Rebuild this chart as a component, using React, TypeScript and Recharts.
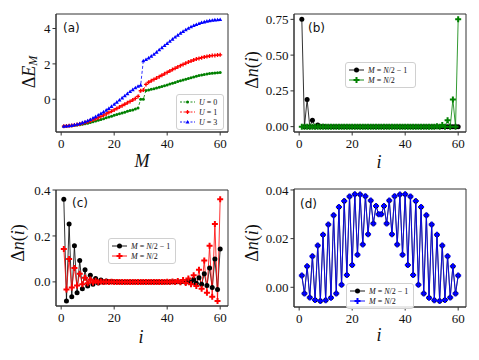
import { LineChart, Line, XAxis, YAxis, ReferenceArea, Legend } from "recharts";

// site / particle index 1..60
const sites = Array.from({ length: 60 }, (_, k) => k + 1);
const xTicks = [0, 20, 40, 60];

// (a) ΔE_M vs M
const dE_U0 = [
  -1.52, -1.51, -1.5, -1.49, -1.48, -1.46, -1.44, -1.41, -1.38, -1.35,
  -1.31, -1.27, -1.23, -1.19, -1.14, -1.1, -1.05, -1.0, -0.96, -0.91,
  -0.86, -0.82, -0.77, -0.73, -0.68, -0.64, -0.6, -0.55, -0.5, 0.0,
  0.0, 0.5, 0.53, 0.56, 0.6, 0.64, 0.68, 0.72, 0.77, 0.81,
  0.86, 0.9, 0.95, 1.0, 1.04, 1.09, 1.13, 1.18, 1.22, 1.26,
  1.3, 1.34, 1.37, 1.4, 1.43, 1.45, 1.47, 1.49, 1.5, 1.51,
];
const dE_U1 = [
  -1.52, -1.51, -1.5, -1.48, -1.46, -1.43, -1.4, -1.36, -1.32, -1.27,
  -1.22, -1.16, -1.1, -1.04, -0.97, -0.9, -0.83, -0.75, -0.68, -0.6,
  -0.52, -0.44, -0.36, -0.28, -0.2, -0.12, -0.04, 0.05, 0.16, 0.48,
  0.52, 0.84, 0.96, 1.04, 1.12, 1.2, 1.28, 1.36, 1.44, 1.52,
  1.6, 1.68, 1.75, 1.83, 1.9, 1.97, 2.04, 2.1, 2.16, 2.22,
  2.27, 2.31, 2.35, 2.39, 2.42, 2.45, 2.47, 2.48, 2.5, 2.51,
];
const dE_U3 = [
  -1.52, -1.51, -1.49, -1.47, -1.44, -1.41, -1.37, -1.32, -1.27, -1.21,
  -1.14, -1.06, -0.98, -0.89, -0.8, -0.71, -0.61, -0.51, -0.4, -0.28,
  -0.16, -0.04, 0.08, 0.2, 0.32, 0.44, 0.55, 0.65, 0.74, 0.8,
  2.18, 2.25, 2.34, 2.44, 2.55, 2.67, 2.8, 2.92, 3.04, 3.16,
  3.28, 3.4, 3.52, 3.63, 3.74, 3.84, 3.93, 4.02, 4.1, 4.17,
  4.23, 4.29, 4.34, 4.38, 4.42, 4.45, 4.47, 4.49, 4.5, 4.51,
];

// (b) Δn(i)
const dnB_Nm1 = [
  0.75, 0, 0.19, 0, 0.045, 0, 0.012, 0, 0.003, 0,
  0, 0, 0, 0, 0, 0, 0, 0, 0, 0,
  0, 0, 0, 0, 0, 0, 0, 0, 0, 0,
  0, 0, 0, 0, 0, 0, 0, 0, 0, 0,
  0, 0, 0, 0, 0, 0, 0, 0, 0, 0,
  0, 0, 0, 0, 0, 0, 0, 0, 0, 0,
];
const dnB_N = [
  0, 0, 0, 0, 0, 0, 0, 0, 0, 0,
  0, 0, 0, 0, 0, 0, 0, 0, 0, 0,
  0, 0, 0, 0, 0, 0, 0, 0, 0, 0,
  0, 0, 0, 0, 0, 0, 0, 0, 0, 0,
  0, 0, 0, 0, 0, 0, 0, 0, 0, 0,
  0, 0.003, 0, 0.012, 0, 0.045, 0, 0.19, 0, 0.75,
];

// (c) Δn(i)
const dnC_Nm1 = [
  0.36, -0.083, 0.252, -0.065, 0.157, -0.047, 0.093, -0.03, 0.053, -0.018,
  0.029, -0.01, 0.015, -0.005, 0.008, -0.002, 0.004, -0.001, 0.002, 0,
  0.001, 0, 0, 0, 0, 0, 0, 0, 0, 0,
  0, 0, 0, 0, 0, 0, 0, 0, 0, 0,
  0, 0.001, 0, 0.001, -0.001, 0.002, -0.002, 0.005, -0.003, 0.01,
  -0.006, 0.018, -0.01, 0.035, -0.016, 0.06, -0.024, 0.1, -0.033, 0.143,
];
const dnC_N = [
  0.143, -0.033, 0.1, -0.024, 0.06, -0.016, 0.035, -0.01, 0.018, -0.006,
  0.01, -0.003, 0.005, -0.002, 0.002, -0.001, 0.001, 0, 0.001, 0,
  0, 0, 0, 0, 0, 0, 0, 0, 0, 0,
  0, 0, 0, 0, 0, 0, 0, 0, 0, 0.001,
  0, 0.002, -0.001, 0.004, -0.002, 0.008, -0.005, 0.015, -0.01, 0.029,
  -0.018, 0.053, -0.03, 0.093, -0.047, 0.157, -0.065, 0.252, -0.083, 0.36,
];

// (d) Δn(i) — both curves coincide, black sits under blue
const dnD_N = [
  0.0048, -0.0025, 0.0086, -0.0042, 0.0128, -0.0052, 0.0172, -0.0056, 0.0216, -0.0053,
  0.0258, -0.0043, 0.0296, -0.0025, 0.033, 0.001, 0.0355, 0.0051, 0.0373, 0.0092,
  0.0382, 0.0134, 0.0381, 0.0176, 0.0374, 0.0218, 0.0357, 0.0262, 0.0334, 0.03,
  0.03, 0.0334, 0.0262, 0.0357, 0.0218, 0.0374, 0.0176, 0.0381, 0.0134, 0.0382,
  0.0092, 0.0373, 0.0051, 0.0355, 0.001, 0.033, -0.0025, 0.0296, -0.0043, 0.0258,
  -0.0053, 0.0216, -0.0056, 0.0172, -0.0052, 0.0128, -0.0042, 0.0086, -0.0025, 0.0048,
];
const dnD_Nm1 = dnD_N;

const X_DOMAIN = [-1.95, 62.95];
const AXIS = "#333";
const SERIF = "'Liberation Serif', 'DejaVu Serif', serif";
const tickFont = { fontFamily: SERIF, fontSize: 13, fill: "#111" };

type Kind = "circle" | "plus" | "triangle";

function Marker({ kind, cx, cy, s, color }: { kind: Kind; cx: number; cy: number; s: number; color: string }) {
  if (kind === "circle") return <circle cx={cx} cy={cy} r={s / 2} fill={color} />;
  if (kind === "triangle") {
    const h = s / 2;
    return <path d={`M${cx},${cy - h}L${cx + h},${cy + h * 0.8}L${cx - h},${cy + h * 0.8}Z`} fill={color} />;
  }
  const a = s / 2;
  const b = s / 6;
  return (
    <path
      d={`M${cx - b},${cy - a}h${2 * b}v${a - b}h${a - b}v${2 * b}h${b - a}v${a - b}h${-2 * b}v${b - a}h${b - a}v${-2 * b}h${a - b}Z`}
      fill={color}
    />
  );
}

type Series = { key: string; color: string; kind: Kind; size: number; dashed?: boolean; label: React.ReactNode };

function LegendBox({ series, width }: { series: Series[]; width: number }) {
  return (
    <div
      style={{
        width,
        border: "1px solid #d0d0d0",
        borderRadius: 3,
        background: "rgba(255,255,255,0.85)",
        padding: "2px 3px",
        fontFamily: SERIF,
        fontSize: 8,
        color: "#111",
        boxSizing: "border-box",
      }}
    >
      {series.map((s) => (
        <div key={s.key} style={{ display: "flex", alignItems: "center", height: 10 }}>
          <svg width={15} height={8} style={{ flex: "none" }}>
            <line x1={0} y1={4} x2={15} y2={4} stroke={s.color} strokeWidth={0.9} strokeDasharray={s.dashed ? "2 1.5" : undefined} />
            <Marker kind={s.kind} cx={7.5} cy={4} s={s.size} color={s.color} />
          </svg>
          <span style={{ marginLeft: 4, whiteSpace: "nowrap" }}>{s.label}</span>
        </div>
      ))}
    </div>
  );
}

const uLabel = (u: number) => (
  <>
    <i>U</i> = {u}
  </>
);
const mLabel1 = (
  <>
    <i>M</i> = <i>N</i>/2 − 1
  </>
);
const mLabel2 = (
  <>
    <i>M</i> = <i>N</i>/2
  </>
);

type PanelProps = {
  left: number;
  top: number;
  margin: { top: number; right: number; bottom: number; left: number };
  data: Record<string, number>[];
  yDomain: number[];
  yTicks: number[];
  yFmt: (v: number) => string;
  series: Series[];
  legend: { x: number; y: number; w: number };
};

function Panel({ left, top, margin, data, yDomain, yTicks, yFmt, series, legend }: PanelProps) {
  return (
    <div style={{ position: "absolute", left, top }}>
      <LineChart width={240} height={180} data={data} margin={margin}>
        <XAxis
          type="number"
          dataKey="i"
          domain={X_DOMAIN}
          ticks={xTicks}
          allowDataOverflow
          height={30}
          tickSize={3.5}
          tickMargin={3}
          stroke={AXIS}
          tick={tickFont}
        />
        <YAxis
          type="number"
          domain={yDomain}
          ticks={yTicks}
          allowDataOverflow
          width={40}
          tickSize={3.5}
          tickMargin={2}
          tickFormatter={yFmt}
          stroke={AXIS}
          tick={tickFont}
        />
        <ReferenceArea
          x1={X_DOMAIN[0]}
          x2={X_DOMAIN[1]}
          y1={yDomain[0]}
          y2={yDomain[1]}
          fill="none"
          stroke={AXIS}
          strokeWidth={1}
          ifOverflow="visible"
        />
        {series.map((s) => (
          <Line
            key={s.key}
            dataKey={s.key}
            type="linear"
            stroke={s.color}
            strokeWidth={0.8}
            strokeDasharray={s.dashed ? "3 2" : undefined}
            isAnimationActive={false}
            dot={(p: any) => <Marker key={`${s.key}-${p.index}`} kind={s.kind} cx={p.cx} cy={p.cy} s={s.size} color={s.color} />}
            activeDot={false}
          />
        ))}
        <Legend
          layout="vertical"
          align="center"
          verticalAlign="middle"
          wrapperStyle={{ left: legend.x, top: legend.y, width: "auto" }}
          content={() => <LegendBox series={series} width={legend.w} />}
        />
      </LineChart>
    </div>
  );
}

const dataA = sites.map((m, k) => ({ i: m, u0: dE_U0[k], u1: dE_U1[k], u3: dE_U3[k] }));
const dataB = sites.map((s, k) => ({ i: s, a: dnB_Nm1[k], b: dnB_N[k] }));
const dataC = sites.map((s, k) => ({ i: s, a: dnC_Nm1[k], b: dnC_N[k] }));
const dataD = sites.map((s, k) => ({ i: s, a: dnD_Nm1[k], b: dnD_N[k] }));

const seriesA: Series[] = [
  { key: "u0", color: "#008000", kind: "circle", size: 3, dashed: true, label: uLabel(0) },
  { key: "u1", color: "#ff0000", kind: "plus", size: 4, dashed: true, label: uLabel(1) },
  { key: "u3", color: "#0000ff", kind: "triangle", size: 4, dashed: true, label: uLabel(3) },
];
const seriesB: Series[] = [
  { key: "a", color: "#000000", kind: "circle", size: 5, label: mLabel1 },
  { key: "b", color: "#008000", kind: "plus", size: 6, label: mLabel2 },
];
const seriesC: Series[] = [
  { key: "a", color: "#000000", kind: "circle", size: 5, label: mLabel1 },
  { key: "b", color: "#ff0000", kind: "plus", size: 6, label: mLabel2 },
];
const seriesD: Series[] = [
  { key: "a", color: "#000000", kind: "circle", size: 5, label: mLabel1 },
  { key: "b", color: "#0000ff", kind: "plus", size: 6, label: mLabel2 },
];

const mathFont = { fontFamily: SERIF, fontSize: 18, fill: "#111" };
const tagFont = { fontFamily: "'DejaVu Sans', sans-serif", fontSize: 12, fill: "#111" };

function DeltaN({ x, y }: { x: number; y: number }) {
  return (
    <text x={x} y={y} transform={`rotate(-90 ${x} ${y})`} textAnchor="middle" dominantBaseline="central" {...mathFont}>
      Δ<tspan fontStyle="italic">n</tspan>(<tspan fontStyle="italic">i</tspan>)
    </text>
  );
}

export default function App() {
  return (
    <div style={{ position: "absolute", left: 0, top: 0, width: 479, height: 360, background: "#fff" }}>
      <Panel
        left={0}
        top={0}
        margin={{ top: 14, right: 12, bottom: 18, left: 16 }}
        data={dataA}
        yDomain={[-1.85, 4.82]}
        yTicks={[0, 2, 4]}
        yFmt={(v) => String(v)}
        series={seriesA}
        legend={{ x: 176, y: 94, w: 48 }}
      />
      <Panel
        left={240}
        top={0}
        margin={{ top: 14, right: 14, bottom: 18, left: 14 }}
        data={dataB}
        yDomain={[-0.0375, 0.7875]}
        yTicks={[0, 0.25, 0.5, 0.75]}
        yFmt={(v) => v.toFixed(2)}
        series={seriesB}
        legend={{ x: 105, y: 62, w: 71 }}
      />
      <Panel
        left={0}
        top={180}
        margin={{ top: 10, right: 12, bottom: 24, left: 16 }}
        data={dataC}
        yDomain={[-0.105, 0.4]}
        yTicks={[0, 0.2, 0.4]}
        yFmt={(v) => v.toFixed(1)}
        series={seriesC}
        legend={{ x: 108, y: 58, w: 68 }}
      />
      <Panel
        left={240}
        top={180}
        margin={{ top: 9, right: 14, bottom: 23, left: 14 }}
        data={dataD}
        yDomain={[-0.0081, 0.0404]}
        yTicks={[0, 0.02, 0.04]}
        yFmt={(v) => v.toFixed(2)}
        series={seriesD}
        legend={{ x: 106, y: 103, w: 68 }}
      />
      <svg width={479} height={360} style={{ position: "absolute", left: 0, top: 0, pointerEvents: "none" }}>
        <text x={29} y={72} transform="rotate(-90 29 72)" textAnchor="middle" dominantBaseline="central" {...mathFont}>
          Δ<tspan fontStyle="italic">E</tspan>
          <tspan fontStyle="italic" fontSize={12} dy={4}>M</tspan>
        </text>
        <text x={142} y={161} textAnchor="middle" dominantBaseline="central" fontStyle="italic" {...mathFont}>M</text>
        <DeltaN x={252} y={70} />
        <text x={379} y={162} textAnchor="middle" dominantBaseline="central" fontStyle="italic" {...mathFont}>i</text>
        <DeltaN x={18} y={243} />
        <text x={141} y={337} textAnchor="middle" dominantBaseline="central" fontStyle="italic" {...mathFont}>i</text>
        <DeltaN x={252} y={243} />
        <text x={379} y={335} textAnchor="middle" dominantBaseline="central" fontStyle="italic" {...mathFont}>i</text>
        <text x={63} y={28} dominantBaseline="central" {...tagFont}>(a)</text>
        <text x={308} y={28} dominantBaseline="central" {...tagFont}>(b)</text>
        <text x={72} y={203} dominantBaseline="central" {...tagFont}>(c)</text>
        <text x={300} y={204} dominantBaseline="central" {...tagFont}>(d)</text>
      </svg>
    </div>
  );
}
